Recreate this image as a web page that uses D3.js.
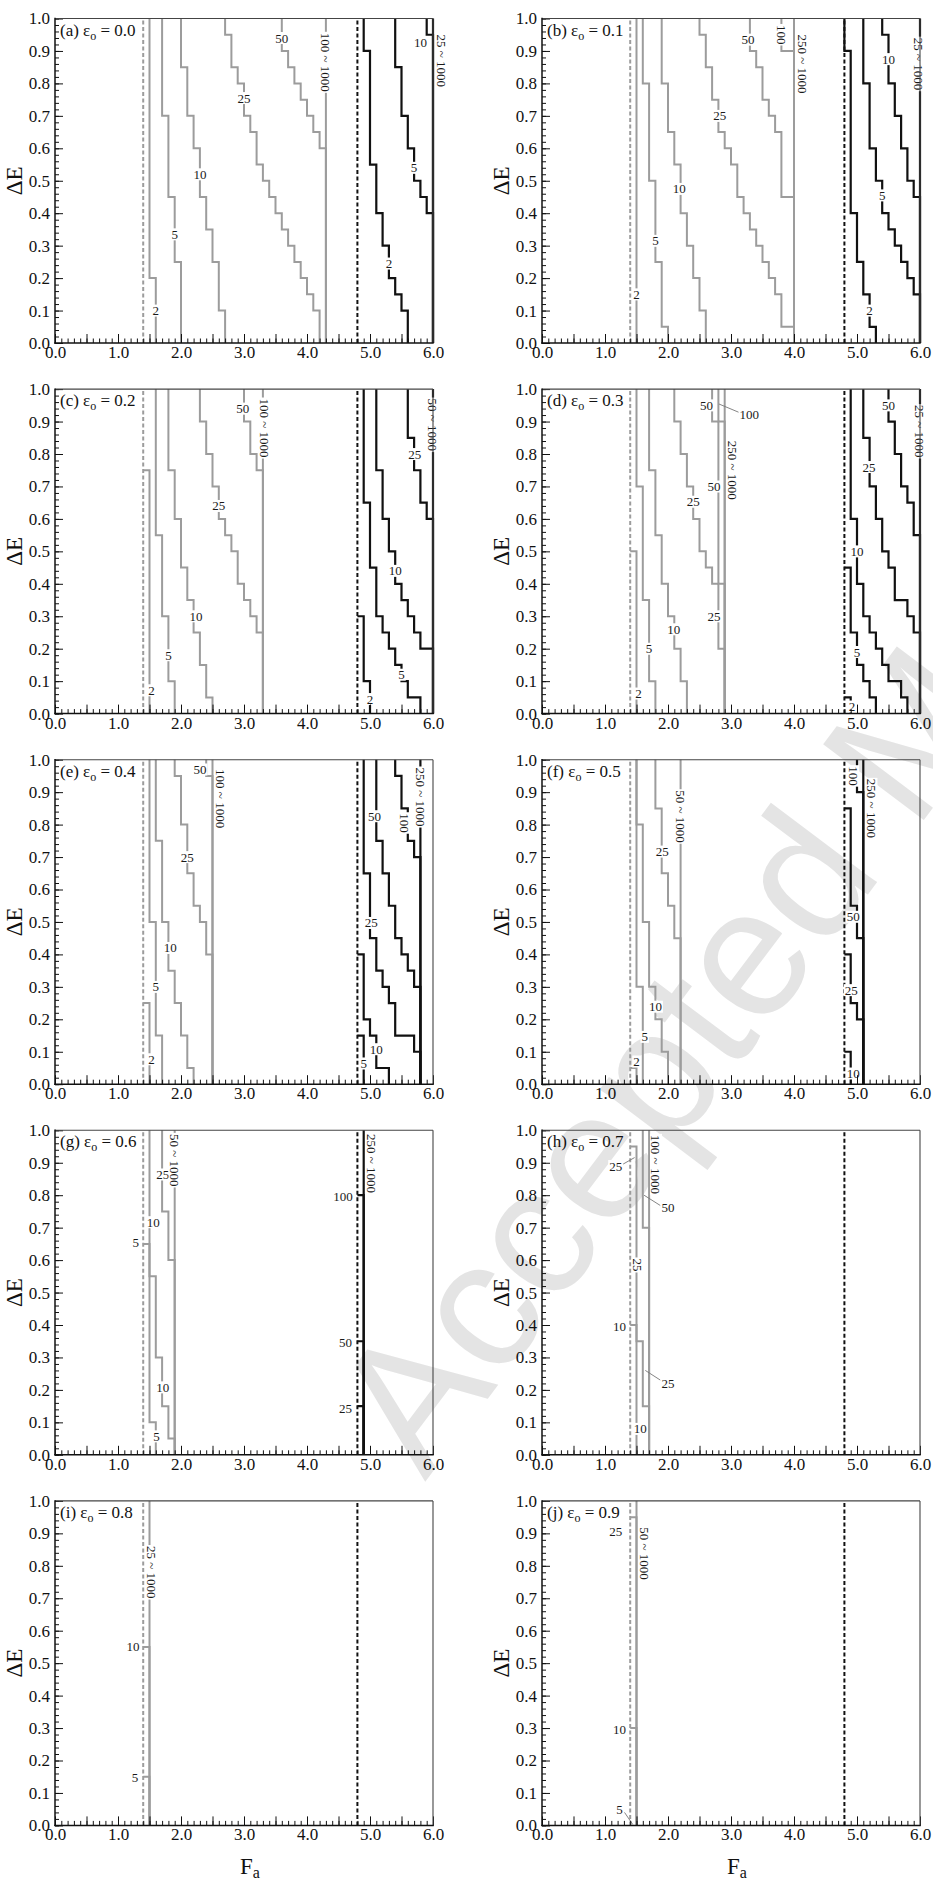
<!DOCTYPE html>
<html>
<head>
<meta charset="utf-8">
<script src="https://cdn.jsdelivr.net/npm/d3@7"></script>
<style>
  html, body { margin: 0; padding: 0; background: #fff; }
  svg { display: block; }
</style>
</head>
<body>
<svg id="chart" width="933" height="1881"></svg>
<script>
// ---- panel identifiers ----------------------------------------------------
const panelTags = ["(a)", "(b)", "(c)", "(d)", "(e)", "(f)", "(g)", "(h)", "(i)", "(j)"];
const epsilonO = [0.0, 0.1, 0.2, 0.3, 0.4, 0.5, 0.6, 0.7, 0.8, 0.9];

// ---- axis ticks -------------------------------------------------------------
const xTickLabels = [0, 1, 2, 3, 4, 5, 6];
const yTickLabels = [0, 0.1, 0.2, 0.3, 0.4, 0.5, 0.6, 0.7, 0.8, 0.9, 1.0];

// ---- threshold F_a values (dashed lines) ------------------------------------
const boundaries = [
  { fam: "low", f: 1.4 },
  { fam: "high", f: 4.8 }
];

// ---- iso-lines: each step is [F_a, ΔE at which the step ends], from ΔE = 0 ----
const curvesA = [
  { fam: "low", n: "2", steps: [[1.6, 0.2], [1.5, 1.0]] },
  { fam: "low", n: "5", steps: [[2.0, 0.25], [1.9, 0.45], [1.8, 0.7], [1.7, 1.0]] },
  { fam: "low", n: "10", steps: [[2.7, 0.1], [2.6, 0.25], [2.5, 0.35], [2.4, 0.45], [2.3, 0.6], [2.2, 0.7], [2.1, 0.85], [2.0, 1.0]] },
  { fam: "low", n: "25", steps: [[4.2, 0.1], [4.1, 0.15], [4.0, 0.2], [3.9, 0.25], [3.8, 0.3], [3.7, 0.35], [3.6, 0.4], [3.5, 0.45], [3.4, 0.5], [3.3, 0.55], [3.2, 0.65], [3.1, 0.7], [3.0, 0.8], [2.9, 0.85], [2.8, 0.95], [2.7, 1.0]] },
  { fam: "low", n: "50", steps: [[4.3, 0.6], [4.2, 0.65], [4.1, 0.7], [4.0, 0.75], [3.9, 0.8], [3.8, 0.85], [3.7, 0.9], [3.6, 1.0]] },
  { fam: "low", n: "100-1000", steps: [[4.3, 1.0]] },
  { fam: "high", n: "2", steps: [[5.6, 0.1], [5.5, 0.15], [5.4, 0.2], [5.3, 0.3], [5.2, 0.4], [5.1, 0.55], [5.0, 0.9], [4.9, 1.0]] },
  { fam: "high", n: "5", steps: [[6.0, 0.4], [5.9, 0.45], [5.8, 0.5], [5.7, 0.6], [5.6, 0.7], [5.5, 0.85], [5.4, 1.0]] },
  { fam: "high", n: "10", steps: [[6.0, 0.95], [5.9, 1.0]] },
  { fam: "high", n: "25-1000", steps: [[6.0, 1.0]] }
];
const curvesB = [
  { fam: "low", n: "2", steps: [[1.5, 1.0]] },
  { fam: "low", n: "5", steps: [[2.0, 0.05], [1.9, 0.25], [1.8, 0.5], [1.7, 0.8], [1.6, 1.0]] },
  { fam: "low", n: "10", steps: [[2.6, 0.1], [2.5, 0.2], [2.4, 0.3], [2.3, 0.4], [2.2, 0.55], [2.1, 0.65], [2.0, 0.8], [1.9, 1.0]] },
  { fam: "low", n: "25", steps: [[4.0, 0.05], [3.8, 0.15], [3.7, 0.2], [3.6, 0.25], [3.5, 0.3], [3.4, 0.35], [3.3, 0.4], [3.2, 0.45], [3.1, 0.55], [3.0, 0.6], [2.9, 0.65], [2.8, 0.75], [2.7, 0.85], [2.6, 0.95], [2.5, 1.0]] },
  { fam: "low", n: "50", steps: [[4.0, 0.45], [3.8, 0.65], [3.7, 0.7], [3.6, 0.75], [3.5, 0.85], [3.4, 0.9], [3.3, 1.0]] },
  { fam: "low", n: "100", steps: [[4.0, 0.9], [3.8, 1.0]] },
  { fam: "low", n: "250-1000", steps: [[4.0, 1.0]] },
  { fam: "high", n: "2", steps: [[5.3, 0.05], [5.2, 0.15], [5.1, 0.25], [5.0, 0.4], [4.9, 0.9], [4.8, 1.0]] },
  { fam: "high", n: "5", steps: [[6.0, 0.15], [5.9, 0.2], [5.8, 0.25], [5.7, 0.3], [5.6, 0.35], [5.5, 0.4], [5.4, 0.5], [5.3, 0.6], [5.2, 0.8], [5.1, 1.0]] },
  { fam: "high", n: "10", steps: [[6.0, 0.45], [5.9, 0.5], [5.8, 0.6], [5.7, 0.7], [5.6, 0.8], [5.5, 0.95], [5.4, 1.0]] },
  { fam: "high", n: "25-1000", steps: [[6.0, 1.0]] }
];
const curvesC = [
  { fam: "low", n: "2", steps: [[1.5, 0.75], [1.4, 0.75]] },
  { fam: "low", n: "5", steps: [[1.9, 0.1], [1.8, 0.3], [1.7, 0.55], [1.6, 1.0]] },
  { fam: "low", n: "10", steps: [[2.5, 0.05], [2.4, 0.15], [2.3, 0.25], [2.2, 0.35], [2.1, 0.45], [2.0, 0.6], [1.9, 0.75], [1.8, 1.0]] },
  { fam: "low", n: "25", steps: [[3.3, 0.25], [3.2, 0.3], [3.1, 0.35], [3.0, 0.4], [2.9, 0.5], [2.8, 0.55], [2.7, 0.6], [2.6, 0.7], [2.5, 0.8], [2.4, 0.9], [2.3, 1.0]] },
  { fam: "low", n: "50", steps: [[3.3, 0.75], [3.2, 0.8], [3.1, 0.9], [3.0, 1.0]] },
  { fam: "low", n: "100-1000", steps: [[3.3, 1.0]] },
  { fam: "high", n: "2", steps: [[5.0, 0.1], [4.9, 0.3], [4.8, 0.3]] },
  { fam: "high", n: "5", steps: [[5.8, 0.05], [5.6, 0.1], [5.5, 0.15], [5.4, 0.2], [5.3, 0.25], [5.2, 0.3], [5.1, 0.45], [5.0, 0.65], [4.9, 1.0]] },
  { fam: "high", n: "10", steps: [[6.0, 0.2], [5.8, 0.25], [5.7, 0.3], [5.6, 0.35], [5.5, 0.4], [5.4, 0.5], [5.3, 0.6], [5.2, 0.75], [5.1, 1.0]] },
  { fam: "high", n: "25", steps: [[6.0, 0.6], [5.9, 0.65], [5.8, 0.75], [5.7, 0.85], [5.6, 1.0]] },
  { fam: "high", n: "50-1000", steps: [[6.0, 1.0]] }
];
const curvesD = [
  { fam: "low", n: "2", steps: [[1.5, 0.5], [1.4, 0.5]] },
  { fam: "low", n: "5", steps: [[1.8, 0.1], [1.7, 0.35], [1.6, 0.7], [1.5, 1.0]] },
  { fam: "low", n: "10", steps: [[2.3, 0.1], [2.2, 0.2], [2.1, 0.3], [2.0, 0.4], [1.9, 0.55], [1.8, 0.75], [1.7, 1.0]] },
  { fam: "low", n: "25", steps: [[2.9, 0.2], [2.8, 0.4], [2.7, 0.45], [2.6, 0.5], [2.5, 0.6], [2.4, 0.7], [2.3, 0.8], [2.2, 0.9], [2.1, 1.0]] },
  { fam: "low", n: "50", steps: [[2.9, 0.4], [2.8, 0.9], [2.7, 1.0]] },
  { fam: "low", n: "100", steps: [[2.9, 0.9], [2.8, 1.0]] },
  { fam: "low", n: "250-1000", steps: [[2.9, 1.0]] },
  { fam: "high", n: "2", steps: [[4.9, 0.05], [4.8, 0.05]] },
  { fam: "high", n: "5", steps: [[5.3, 0.05], [5.2, 0.1], [5.1, 0.15], [5.0, 0.25], [4.9, 0.45], [4.8, 0.45]] },
  { fam: "high", n: "10", steps: [[5.8, 0.05], [5.7, 0.1], [5.5, 0.15], [5.4, 0.2], [5.3, 0.25], [5.2, 0.3], [5.1, 0.4], [5.0, 0.6], [4.9, 1.0]] },
  { fam: "high", n: "25", steps: [[6.0, 0.25], [5.9, 0.3], [5.8, 0.35], [5.6, 0.45], [5.5, 0.5], [5.4, 0.6], [5.3, 0.7], [5.2, 0.85], [5.1, 1.0]] },
  { fam: "high", n: "50", steps: [[6.0, 0.55], [5.9, 0.65], [5.8, 0.7], [5.7, 0.8], [5.6, 0.9], [5.5, 1.0]] },
  { fam: "high", n: "25-1000", steps: [[6.0, 1.0]] }
];
const curvesE = [
  { fam: "low", n: "2", steps: [[1.5, 0.25], [1.4, 0.25]] },
  { fam: "low", n: "5", steps: [[1.7, 0.15], [1.6, 0.5], [1.5, 1.0]] },
  { fam: "low", n: "10", steps: [[2.2, 0.05], [2.1, 0.15], [2.0, 0.25], [1.9, 0.35], [1.8, 0.5], [1.7, 0.75], [1.6, 1.0]] },
  { fam: "low", n: "25", steps: [[2.5, 0.4], [2.4, 0.5], [2.3, 0.55], [2.2, 0.65], [2.1, 0.8], [2.0, 0.95], [1.9, 1.0]] },
  { fam: "low", n: "50", steps: [[2.5, 0.95], [2.4, 1.0]] },
  { fam: "low", n: "100-1000", steps: [[2.5, 1.0]] },
  { fam: "high", n: "5", steps: [[4.9, 0.15], [4.8, 0.15]] },
  { fam: "high", n: "10", steps: [[5.3, 0.05], [5.1, 0.15], [5.0, 0.2], [4.9, 0.4], [4.8, 0.4]] },
  { fam: "high", n: "25", steps: [[5.8, 0.1], [5.7, 0.15], [5.4, 0.25], [5.3, 0.3], [5.2, 0.35], [5.1, 0.45], [5.0, 0.65], [4.9, 1.0]] },
  { fam: "high", n: "50", steps: [[5.8, 0.3], [5.7, 0.35], [5.6, 0.4], [5.5, 0.45], [5.4, 0.55], [5.3, 0.65], [5.2, 0.75], [5.1, 1.0]] },
  { fam: "high", n: "100", steps: [[5.8, 0.7], [5.7, 0.75], [5.6, 0.85], [5.5, 0.95], [5.4, 1.0]] },
  { fam: "high", n: "250-1000", steps: [[5.8, 1.0]] }
];
const curvesF = [
  { fam: "low", n: "2", steps: [[1.5, 0.05], [1.4, 0.05]] },
  { fam: "low", n: "5", steps: [[1.6, 0.3], [1.5, 1.0]] },
  { fam: "low", n: "10", steps: [[2.0, 0.1], [1.9, 0.2], [1.8, 0.3], [1.7, 0.5], [1.6, 0.8], [1.5, 1.0]] },
  { fam: "low", n: "25", steps: [[2.2, 0.45], [2.1, 0.55], [2.0, 0.65], [1.9, 0.85], [1.8, 1.0]] },
  { fam: "low", n: "50-1000", steps: [[2.2, 1.0]] },
  { fam: "high", n: "10", steps: [[4.9, 0.1], [4.8, 0.1]] },
  { fam: "high", n: "25", steps: [[5.1, 0.2], [5.0, 0.25], [4.9, 0.4], [4.8, 0.4]] },
  { fam: "high", n: "50", steps: [[5.1, 0.45], [5.0, 0.55], [4.9, 0.85], [4.8, 0.85]] },
  { fam: "high", n: "100", steps: [[5.1, 0.9], [5.0, 1.0]] },
  { fam: "high", n: "250-1000", steps: [[5.1, 1.0]] }
];
const curvesG = [
  { fam: "low", n: "5", steps: [[1.6, 0.1], [1.5, 0.65], [1.4, 0.65]] },
  { fam: "low", n: "10", steps: [[1.9, 0.05], [1.8, 0.15], [1.7, 0.3], [1.6, 0.55], [1.5, 1.0]] },
  { fam: "low", n: "25", steps: [[1.9, 0.6], [1.8, 0.75], [1.7, 1.0]] },
  { fam: "low", n: "50-1000", steps: [[1.9, 1.0]] },
  { fam: "high", n: "25", steps: [[4.9, 0.15], [4.8, 0.15]] },
  { fam: "high", n: "50", steps: [[4.9, 0.35], [4.8, 0.35]] },
  { fam: "high", n: "100", steps: [[4.9, 0.8], [4.8, 0.8]] },
  { fam: "high", n: "250-1000", steps: [[4.9, 1.0]] }
];
const curvesH = [
  { fam: "low", n: "10", steps: [[1.5, 0.4], [1.4, 0.4]] },
  { fam: "low", n: "25", steps: [[1.7, 0.15], [1.6, 0.35], [1.5, 0.95], [1.4, 0.95]] },
  { fam: "low", n: "50", steps: [[1.7, 0.7], [1.6, 1.0]] },
  { fam: "low", n: "100-1000", steps: [[1.7, 1.0]] }
];
const curvesI = [
  { fam: "low", n: "5", steps: [[1.5, 0.15], [1.4, 0.15]] },
  { fam: "low", n: "10", steps: [[1.5, 0.55], [1.4, 0.55]] },
  { fam: "low", n: "25-1000", steps: [[1.5, 1.0]] }
];
const curvesJ = [
  { fam: "low", n: "10", steps: [[1.5, 0.3], [1.4, 0.3]] },
  { fam: "low", n: "25", steps: [[1.5, 0.95], [1.4, 0.95]] },
  { fam: "low", n: "50-1000", steps: [[1.5, 1.0]] }
];

// ---- inline labels (data coordinates); turn = written along the line -------
const labelsA = [
  { t: "2", x: 1.6, y: 0.1 }, { t: "5", x: 1.9, y: 0.335 }, { t: "10", x: 2.3, y: 0.52 },
  { t: "25", x: 3.0, y: 0.755 }, { t: "50", x: 3.6, y: 0.94 },
  { t: "100 ~ 1000", x: 4.3, y: 0.865, turn: true },
  { t: "2", x: 5.3, y: 0.245 }, { t: "5", x: 5.7, y: 0.54 }, { t: "10", x: 5.8, y: 0.925 },
  { t: "25 ~ 1000", x: 6.13, y: 0.87, turn: true }
];
const labelsB = [
  { t: "2", x: 1.5, y: 0.15 }, { t: "5", x: 1.8, y: 0.315 }, { t: "10", x: 2.18, y: 0.475 },
  { t: "25", x: 2.82, y: 0.70 }, { t: "50", x: 3.27, y: 0.935 },
  { t: "100", x: 3.8, y: 0.95, turn: true }, { t: "250 ~ 1000", x: 4.14, y: 0.86, turn: true },
  { t: "2", x: 5.2, y: 0.1 }, { t: "5", x: 5.4, y: 0.455 }, { t: "10", x: 5.5, y: 0.875 },
  { t: "25 ~ 1000", x: 5.98, y: 0.86, turn: true }
];
const labelsC = [
  { t: "2", x: 1.53, y: 0.072 }, { t: "5", x: 1.8, y: 0.18 }, { t: "10", x: 2.24, y: 0.3 },
  { t: "25", x: 2.6, y: 0.64 }, { t: "50", x: 2.98, y: 0.94 },
  { t: "100 ~ 1000", x: 3.33, y: 0.88, turn: true },
  { t: "2", x: 5.0, y: 0.045 }, { t: "5", x: 5.5, y: 0.12 }, { t: "10", x: 5.4, y: 0.44 },
  { t: "25", x: 5.71, y: 0.8 }, { t: "50 ~ 1000", x: 6.0, y: 0.89, turn: true }
];
const labelsD = [
  { t: "2", x: 1.53, y: 0.062 }, { t: "5", x: 1.7, y: 0.2 }, { t: "10", x: 2.09, y: 0.26 },
  { t: "25", x: 2.4, y: 0.653 }, { t: "50", x: 2.61, y: 0.95 }, { t: "50", x: 2.73, y: 0.70 },
  { t: "25", x: 2.73, y: 0.30 },
  { t: "100", x: 3.29, y: 0.923, from: [2.81, 0.954], to: [3.13, 0.928] },
  { t: "250 ~ 1000", x: 3.03, y: 0.75, turn: true },
  { t: "2", x: 4.92, y: 0.022 }, { t: "5", x: 5.0, y: 0.19 }, { t: "10", x: 5.0, y: 0.5 },
  { t: "25", x: 5.19, y: 0.76 }, { t: "50", x: 5.5, y: 0.95 },
  { t: "25 ~ 1000", x: 6.0, y: 0.87, turn: true }
];
const labelsE = [
  { t: "2", x: 1.53, y: 0.077 }, { t: "5", x: 1.6, y: 0.30 }, { t: "10", x: 1.83, y: 0.42 },
  { t: "25", x: 2.1, y: 0.70 }, { t: "50", x: 2.3, y: 0.97 },
  { t: "100 ~ 1000", x: 2.63, y: 0.88, turn: true },
  { t: "5", x: 4.9, y: 0.064 }, { t: "10", x: 5.1, y: 0.108 }, { t: "25", x: 5.02, y: 0.497 },
  { t: "50", x: 5.07, y: 0.826 }, { t: "100", x: 5.55, y: 0.805, turn: true },
  { t: "250 ~ 1000", x: 5.8, y: 0.885, turn: true }
];
const labelsF = [
  { t: "2", x: 1.5, y: 0.07 }, { t: "5", x: 1.63, y: 0.146 }, { t: "10", x: 1.8, y: 0.239 },
  { t: "25", x: 1.91, y: 0.717 }, { t: "50 ~ 1000", x: 2.2, y: 0.825, turn: true },
  { t: "10", x: 4.94, y: 0.033 }, { t: "25", x: 4.91, y: 0.29 }, { t: "50", x: 4.94, y: 0.516 },
  { t: "100", x: 4.94, y: 0.95, turn: true }, { t: "250 ~ 1000", x: 5.23, y: 0.85, turn: true }
];
const labelsG = [
  { t: "5", x: 1.28, y: 0.653 }, { t: "10", x: 1.56, y: 0.717 }, { t: "25", x: 1.71, y: 0.864 },
  { t: "50 ~ 1000", x: 1.9, y: 0.908, turn: true }, { t: "10", x: 1.71, y: 0.208 },
  { t: "5", x: 1.61, y: 0.057 },
  { t: "100", x: 4.57, y: 0.797 }, { t: "50", x: 4.61, y: 0.345 }, { t: "25", x: 4.61, y: 0.144 },
  { t: "250 ~ 1000", x: 5.02, y: 0.898, turn: true }
];
const labelsH = [
  { t: "25", x: 1.17, y: 0.89, from: [1.28, 0.895], to: [1.47, 0.916] },
  { t: "100 ~ 1000", x: 1.81, y: 0.895, turn: true },
  { t: "50", x: 2.0, y: 0.761, from: [1.62, 0.80], to: [1.88, 0.768] },
  { t: "25", x: 1.52, y: 0.585, turn: true }, { t: "10", x: 1.23, y: 0.396 },
  { t: "25", x: 2.0, y: 0.221, from: [1.64, 0.26], to: [1.88, 0.23] },
  { t: "10", x: 1.56, y: 0.08 }
];
const labelsI = [
  { t: "25 ~ 1000", x: 1.53, y: 0.78, turn: true }, { t: "10", x: 1.24, y: 0.551 },
  { t: "5", x: 1.27, y: 0.149 }
];
const labelsJ = [
  { t: "25", x: 1.17, y: 0.907 }, { t: "50 ~ 1000", x: 1.63, y: 0.838, turn: true },
  { t: "10", x: 1.23, y: 0.296 },
  { t: "5", x: 1.23, y: 0.05, from: [1.31, 0.04], to: [1.44, 0.003] }
];

const panelCurves = [curvesA, curvesB, curvesC, curvesD, curvesE, curvesF, curvesG, curvesH, curvesI, curvesJ];
const panelLabels = [labelsA, labelsB, labelsC, labelsD, labelsE, labelsF, labelsG, labelsH, labelsI, labelsJ];

// ---- layout -----------------------------------------------------------------
const SERIF = "'Liberation Serif', 'Times New Roman', Times, serif";
const GRAY = "#9c9c9c";
const INK = "#111";
const plotW = 378, plotH = 324.5;
const colLeft = [55, 542];
const rowTop0 = 18.5, rowGap = 370.6;

const svg = d3.select("#chart");

// faint manuscript stamp behind the panels
svg.append("text")
  .attr("transform", "translate(425,1482) rotate(-53)")
  .attr("font-family", "'Liberation Sans', Arial, sans-serif")
  .attr("font-size", 183)
  .attr("fill", "#e4e4e4")
  .text("Accepted Manuscript");

const xs = d3.scaleLinear().domain([0, 6]).range([0, plotW]);
const ys = d3.scaleLinear().domain([0, 1]).range([plotH, 0]);
const stepLine = d3.line().x(d => xs(d[0])).y(d => ys(d[1]));

function stepPoints(steps) {
  const pts = [];
  let y0 = 0;
  for (const [sx, yEnd] of steps) {
    pts.push([sx, y0], [sx, yEnd]);
    y0 = yEnd;
  }
  return pts;
}

panelTags.forEach((tag, i) => {
  const row = Math.floor(i / 2);
  const g = svg.append("g")
    .attr("transform", `translate(${colLeft[i % 2]},${rowTop0 + row * rowGap})`);

  // dashed threshold lines
  g.selectAll("line.bound").data(boundaries).join("line")
    .attr("class", "bound")
    .attr("x1", d => xs(d.f)).attr("x2", d => xs(d.f))
    .attr("y1", ys(0)).attr("y2", ys(1))
    .attr("stroke", d => d.fam === "low" ? GRAY : INK)
    .attr("stroke-width", 2)
    .attr("stroke-dasharray", "4,2.5");

  // stepped iso-lines, gray family first
  const curves = panelCurves[i].slice().sort((a, b) => (a.fam === "low" ? 0 : 1) - (b.fam === "low" ? 0 : 1));
  g.selectAll("path.iso").data(curves).join("path")
    .attr("class", "iso")
    .attr("d", d => stepLine(stepPoints(d.steps)))
    .attr("fill", "none")
    .attr("stroke", d => d.fam === "low" ? GRAY : INK)
    .attr("stroke-width", d => d.fam === "low" ? 2 : 2.2)
    .attr("stroke-linejoin", "miter")
    .attr("stroke-linecap", "butt");

  // inline labels with a white knockout
  panelLabels[i].forEach(lb => {
    if (lb.from) {
      g.append("line")
        .attr("x1", xs(lb.from[0])).attr("y1", ys(lb.from[1]))
        .attr("x2", xs(lb.to[0])).attr("y2", ys(lb.to[1]))
        .attr("stroke", "#777").attr("stroke-width", 0.9);
    }
    const lg = g.append("g")
      .attr("transform", `translate(${xs(lb.x)},${ys(lb.y)})${lb.turn ? " rotate(90)" : ""}`);
    const bg = lg.append("rect").attr("fill", "#fff");
    const tx = lg.append("text")
      .attr("text-anchor", "middle")
      .attr("dy", "0.35em")
      .attr("font-family", SERIF)
      .attr("font-size", 13)
      .attr("fill", "#1a1a1a")
      .text(lb.t);
    const bb = tx.node().getBBox();
    bg.attr("x", bb.x - 1).attr("y", bb.y + 1.5)
      .attr("width", bb.width + 2).attr("height", Math.max(bb.height - 3, 0));
  });

  // panel title
  const title = g.append("text")
    .attr("x", 5).attr("y", 17)
    .attr("font-family", SERIF).attr("font-size", 17).attr("fill", "#111");
  title.append("tspan").text(`${tag} ε`);
  title.append("tspan").attr("font-size", 12).attr("dy", 4).text("o");
  title.append("tspan").attr("dy", -4).text(` = ${epsilonO[i].toFixed(1)}`);

  // axes: minor + major ticks pointing inward
  const fmt = d3.format(".1f");
  const xMinor = g.append("g").attr("transform", `translate(0,${plotH})`)
    .call(d3.axisBottom(xs).tickValues(d3.range(0, 6.001, 0.1)).tickSize(-4.5).tickSizeOuter(0).tickFormat(""));
  const xMajor = g.append("g").attr("transform", `translate(0,${plotH})`)
    .call(d3.axisBottom(xs).tickValues(d3.range(0, 6.001, 0.5)).tickSize(-9).tickSizeOuter(0).tickPadding(3)
      .tickFormat(d => xTickLabels.includes(d) ? fmt(d) : ""));
  const yMinor = g.append("g")
    .call(d3.axisLeft(ys).tickValues(d3.range(0, 1.0001, 0.02)).tickSize(-4).tickSizeOuter(0).tickFormat(""));
  const yMajor = g.append("g")
    .call(d3.axisLeft(ys).tickValues(yTickLabels).tickSize(-8).tickSizeOuter(0).tickPadding(5).tickFormat(fmt));
  [xMinor, xMajor, yMinor, yMajor].forEach(a => {
    a.select(".domain").remove();
    a.selectAll(".tick line").attr("stroke", "#111").attr("stroke-width", 1);
    a.selectAll(".tick text").attr("font-family", SERIF).attr("font-size", 17).attr("fill", "#111");
  });

  // frame
  g.append("line").attr("x1", 0).attr("x2", plotW).attr("y1", 0).attr("y2", 0)
    .attr("stroke", "#444").attr("stroke-width", 1.1);
  g.append("line").attr("x1", plotW).attr("x2", plotW).attr("y1", 0).attr("y2", plotH)
    .attr("stroke", "#444").attr("stroke-width", 1.1);
  g.append("line").attr("x1", 0).attr("x2", 0).attr("y1", -0.7).attr("y2", plotH + 0.7)
    .attr("stroke", "#111").attr("stroke-width", 1.5);
  g.append("line").attr("x1", -0.7).attr("x2", plotW + 0.7).attr("y1", plotH).attr("y2", plotH)
    .attr("stroke", "#111").attr("stroke-width", 1.5);

  // axis titles
  g.append("text")
    .attr("transform", `translate(-41,${plotH / 2}) rotate(-90)`)
    .attr("text-anchor", "middle").attr("dy", "0.35em")
    .attr("font-family", SERIF).attr("font-size", 23).attr("fill", "#111")
    .text("ΔE");
  if (row === 4) {
    const fa = g.append("text")
      .attr("x", plotW / 2 + 6).attr("y", plotH + 49)
      .attr("text-anchor", "middle")
      .attr("font-family", SERIF).attr("font-size", 23).attr("fill", "#111");
    fa.append("tspan").text("F");
    fa.append("tspan").attr("font-size", 16).attr("dy", 4).text("a");
  }
});
</script>
</body>
</html>
